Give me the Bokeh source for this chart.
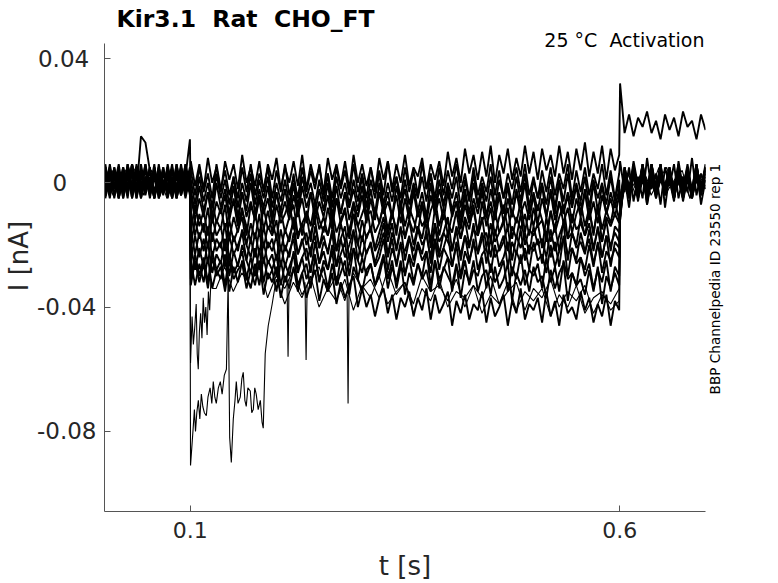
import numpy as np
from bokeh.plotting import figure
from bokeh.models import Range1d, FixedTicker, Label, ColumnDataSource, LinearAxis
from bokeh.embed import file_html
from bokeh.resources import INLINE

NB = "\u00a0"
# ---------------- axes / labels ----------------
TITLE = "Kir3.1 " + NB + "Rat " + NB + "CHO_FT"
SUBTITLE = "25 \u00b0C " + NB + "Activation"
SIDE_NOTE = "BBP Channelpedia ID 23550 rep 1"
X_LABEL = "t [s]"
Y_LABEL = "I [nA]"
X_RANGE = (0.0, 0.7)
Y_RANGE = (-0.1058, 0.0449)      # extent of the drawn y axis
Y_VIEW_TOP = 0.0587              # view extends above the axis to hold the headings
X_TICKS = [0.1, 0.6]
X_TICK_LABELS = ["0.1", "0.6"]
Y_TICKS = [0.04, 0.0, -0.04, -0.08]
Y_TICK_LABELS = ["0.04\u2008", "0\u2007\u2007", "-0.04", "-0.08"]
SIDE_NOTE_Y = -0.0681   # where the rotated note starts (data units)

# sampling windows of the three protocol phases (s)
PRE_WINDOW = (0.001, 0.0995)
STEP_WINDOW = (0.1005, 0.5995)
POST_WINDOW = (0.6005, 0.7)

# ---------------- sweeps (current in pA): (pre, step, post) ----------------
R01 = ([4, -3, 5, -2, 3, -5, 6, -1, 4, -4, 2, -5, 5, -3, 6, -2, 3, -4, 5, -1],
       [7, -1, 6, -2, 8, 0, 5, -3, 7, 1, 6, -2, 9, 0, 5, -1, 7, -3, 6, 1,
        8, -2, 5, 0, 7, -1, 9, -2, 6, 0, 5, -3, 8, 1, 6, -1, 7, -2, 9, 0,
        6, -1, 5, -3, 8, 1, 7, -2, 6, 0, 9, -1, 5, 2, 8, -2, 6, 1, 7, -1,
        10, 2, 8, 0, 11, 3, 9, 1, 10, 2, 12, 0, 9, 3, 11, 1, 8, 2, 12, 3,
        10, 1, 11, 4, 9, 2, 12, 3, 10, 1, 11, 4, 13, 2, 10, 3, 12, 1, 11, 4, 9],
       [32, 16, 22, 15, 21, 18, 23, 16, 20, 14, 22, 17, 21, 15, 23, 18, 20, 14, 22, 17])
R02 = ([-4, 3, -2, 5, -5, 2, -3, 6, -1, 4, -5, 3, -2, 5, -4, 1, -3, 6, -2, 4],
       [4, -4, 5, -3, 3, -5, 6, -2, 4, -4, 2, -5, 5, -3, 6, -4, 3, -2, 5, -5,
        4, -3, 6, -4, 2, -5, 5, -3, 4, -2, 6, -4, 3, -5, 5, -2, 4, -4, 6, -3,
        3, -5, 5, -2, 4, -4, 7, -3, 2, -5, 5, -3, 4, -4, 6, -2, 3, -5, 5, -4,
        4, -2, 6, -3, 3, -5, 5, -4, 2, -3, 6, -4, 4, -5, 3, -2, 5, -3, 6, -4,
        2, -5, 4, -3, 5, -4, 3, -2, 6, -5, 4, -3, 5, -4, 3, -2, 6, -4, 4, -5, 3],
       [7, -3, 5, -6, 2, -5, 8, -2, 3, -7, 5, -1, 6, -5, 2, -3, 8, -4, 3, -2])
R03 = ([5, -2, 4, -5, 1, -3, 6, -4, 3, -1, 5, -5, 2, -3, 4, -2, 6, -4, 1, -3],
       [1, -7, 2, -6, 0, -8, 3, -5, 1, -7, 2, -8, 0, -6, 3, -7, 1, -5, 2, -8,
        0, -6, 1, -7, 3, -8, 2, -5, 0, -7, 1, -6, 3, -8, 2, -5, 0, -7, 1, -6,
        2, -8, 1, -5, 3, -7, 0, -6, 2, -8, 1, -7, 0, -5, 2, -6, 3, -8, 1, -7,
        0, -5, 2, -8, 1, -6, 3, -7, 0, -6, 2, -8, 1, -5, 0, -7, 2, -6, 3, -8,
        1, -5, 0, -7, 2, -8, 1, -6, 3, -7, 0, -6, 2, -8, 1, -5, 0, -7, 2, -6, 1],
       [-8, 2, -3, 7, -1, 4, -7, 3, -2, 6, -4, 1, -6, 7, -2, 4, -5, 2, -1, 5])
R04 = ([-1, 5, -4, 2, -3, 6, -2, 4, -5, 1, -3, 5, -4, 3, -1, 6, -5, 2, -2, 4],
       [-2, -10, -1, -9, -3, -11, 0, -8, -2, -10, -1, -11, -3, -9, 0, -10, -2, -8, -1, -11,
        -3, -9, -2, -10, 0, -11, -1, -8, -3, -10, -2, -9, 0, -11, -1, -10, -3, -8, -2, -9,
        -1, -11, -2, -10, 0, -9, -3, -11, -1, -8, -2, -10, -1, -9, -3, -11, 0, -10, -2, -8,
        -1, -9, -3, -11, -2, -10, 0, -8, -1, -11, -2, -9, -3, -10, -1, -11, -2, -8, 0, -10,
        -3, -9, -1, -11, -2, -10, 0, -9, -3, -8, -1, -10, -2, -11, 0, -9, -1, -10, -3, -8, -2],
       [-6, 5, -2, 4, -5, 1, -3, 6, -4, 2, -2, 5, -5, 3, -1, 4, -4, 6, -3, 1])
R05 = ([3, -4, 2, -5, 4, -1, 5, -3, 15, 13, 4, -4, 3, -2, 5, -5, 2, -3, 6, -1],
       [-4, -12, -5, -11, -3, -13, -6, -10, -4, -12, -5, -13, -3, -11, -6, -12, -4, -10, -5, -13,
        -3, -11, -6, -12, -4, -10, -5, -13, -3, -12, -6, -11, -4, -13, -5, -10, -3, -12, -6, -11,
        -4, -13, -5, -12, -3, -10, -6, -11, -4, -13, -5, -12, -3, -11, -6, -13, -4, -10, -5, -12,
        -3, -11, -6, -13, -4, -12, -5, -10, -3, -11, -6, -12, -4, -13, -5, -11, -3, -10, -6, -12,
        -4, -13, -5, -11, -3, -12, -6, -10, -4, -13, -5, -11, -3, -12, -6, -13, -4, -10, -5, -11, -4],
       [-7, 3, -4, 5, -2, 6, -5, 2, -3, 4, -1, 5, -4, 3, -5, 1, -2, 6, -3, 4])
R06 = ([-5, 2, -2, 4, -4, 6, -1, 3, -5, 2, -3, 5, -2, 4, -4, 1, -5, 3, -1, 5],
       [-16, -7, -14, -9, -17, -6, -13, -8, -15, -10, -6, -14, -8, -17, -7, -12, -5, -15, -9, -16,
        -7, -13, -10, -6, -15, -8, -17, -9, -14, -6, -12, -16, -8, -15, -5, -13, -9, -17, -7, -14,
        -10, -6, -16, -8, -13, -7, -15, -9, -17, -6, -14, -8, -12, -16, -7, -15, -9, -5, -14, -8,
        -17, -10, -6, -15, -7, -13, -9, -16, -6, -14, -8, -17, -11, -7, -15, -9, -13, -6, -16, -8,
        -14, -7, -12, -17, -9, -15, -6, -13, -8, -16, -10, -6, -14, -8, -17, -7, -15, -9, -13, -6, -12],
       [-8, 4, -1, 3, -5, 2, -4, 6, -2, 5, -3, 1, -5, 4, -2, 3, -4, 5, -1, 2])
R07 = ([2, -5, 4, -1, 5, -3, 3, -4, 6, -2, 4, -5, 1, -3, 5, -1, 3, -4, 2, 14],
       [-9, -17, -10, -16, -8, -19, -12, -15, -7, -18, -11, -16, -9, -14, -19, -10, -17, -8, -15, -12,
        -18, -9, -16, -11, -7, -17, -13, -10, -19, -8, -15, -11, -17, -9, -16, -12, -8, -18, -10, -14,
        -19, -11, -9, -16, -13, -7, -17, -10, -15, -8, -18, -12, -16, -9, -14, -11, -19, -8, -17, -10,
        -13, -16, -9, -18, -11, -15, -7, -17, -12, -10, -19, -9, -16, -13, -8, -18, -11, -15, -10, -17,
        -8, -14, -12, -19, -9, -16, -11, -7, -18, -10, -15, -13, -17, -9, -16, -8, -19, -11, -14, -10, -13],
       [-9, 1, -5, 4, -2, 5, -3, 6, -4, 2, -1, 4, -5, 3, -2, 6, -3, 1, -4, 5])
R08 = ([-3, 6, -2, 4, -5, 3, -1, 5, -4, 2, -2, 6, -5, 1, -3, 4, -2, 5, -4, 2],
       [-20, -12, -18, -13, -21, -11, -17, -14, -22, -12, -19, -15, -11, -20, -13, -18, -10, -21, -14, -17,
        -12, -22, -15, -19, -11, -18, -13, -20, -16, -12, -21, -14, -17, -11, -22, -13, -19, -15, -10, -20,
        -12, -18, -14, -21, -16, -11, -19, -13, -22, -15, -17, -12, -20, -14, -18, -10, -21, -13, -19, -16,
        -11, -22, -14, -18, -12, -20, -15, -17, -11, -21, -13, -19, -16, -12, -22, -14, -18, -10, -20, -15,
        -17, -13, -21, -11, -19, -14, -22, -12, -18, -16, -20, -11, -17, -13, -21, -15, -19, -12, -22, -14, -16],
       [-9, 5, -2, 3, -6, 4, -1, 2, -5, 6, -3, 4, -2, 1, -5, 3, -4, 5, -1, 3])
R09 = ([5, -1, 3, -5, 2, -4, 6, -2, 4, -3, 1, -5, 5, -2, 3, -4, 6, -1, 2, -3],
       [-15, -23, -16, -22, -14, -24, -18, -21, -13, -25, -17, -22, -15, -20, -24, -16, -23, -14, -21, -18,
        -25, -15, -22, -17, -13, -23, -19, -16, -24, -14, -21, -17, -23, -15, -22, -18, -14, -25, -16, -20,
        -24, -17, -15, -22, -19, -13, -23, -16, -21, -14, -25, -18, -22, -15, -20, -17, -24, -14, -23, -16,
        -19, -22, -15, -25, -17, -21, -13, -23, -18, -16, -24, -15, -22, -19, -14, -25, -17, -21, -16, -23,
        -14, -20, -18, -24, -15, -22, -17, -13, -25, -16, -21, -19, -23, -15, -22, -14, -24, -17, -20, -16, -19],
       [-10, 2, -4, 6, -3, 1, -5, 4, -2, 5, -4, 2, -1, 6, -3, 4, -5, 2, -2, 4])
R10 = ([-2, 4, -5, 3, -1, 5, -4, 2, -3, 6, -2, 4, -5, 1, -4, 5, -1, 3, -5, 2],
       [-25, -17, -24, -18, -26, -16, -22, -19, -27, -17, -23, -20, -16, -25, -18, -24, -15, -26, -19, -22,
        -17, -27, -20, -24, -16, -23, -18, -25, -21, -17, -26, -19, -22, -16, -27, -18, -24, -20, -15, -25,
        -17, -23, -19, -26, -21, -16, -24, -18, -27, -20, -22, -17, -25, -19, -23, -15, -26, -18, -24, -21,
        -16, -27, -19, -23, -17, -25, -20, -22, -16, -26, -18, -24, -21, -17, -27, -19, -23, -15, -25, -20,
        -22, -18, -26, -16, -24, -19, -27, -17, -23, -21, -25, -16, -22, -18, -26, -20, -24, -17, -27, -19, -21],
       [-10, 3, -3, 5, -1, 4, -6, 2, -4, 3, -2, 5, -3, 1, -5, 4, -2, 6, -4, 2])
R11 = ([1, -4, 5, -3, 4, -2, 6, -5, 2, -1, 5, -3, 3, -4, 2, -5, 4, -2, 6, -3],
       [-20, -28, -21, -27, -19, -29, -23, -26, -18, -30, -22, -27, -20, -25, -29, -21, -28, -19, -26, -23,
        -30, -20, -27, -22, -18, -28, -24, -21, -29, -19, -26, -22, -28, -20, -27, -23, -19, -30, -21, -25,
        -29, -22, -20, -27, -24, -18, -28, -21, -26, -19, -30, -23, -27, -20, -25, -22, -29, -19, -28, -21,
        -24, -27, -20, -30, -22, -26, -18, -28, -23, -21, -29, -20, -27, -24, -19, -30, -22, -26, -21, -28,
        -19, -25, -23, -29, -20, -27, -22, -18, -30, -21, -26, -24, -28, -20, -27, -19, -29, -22, -25, -21, -24],
       [-11, 4, -5, 2, -3, 6, -2, 5, -4, 1, -3, 4, -5, 2, -1, 5, -4, 3, -2, 6])
R12 = ([-4, 2, -1, 6, -3, 4, -5, 2, -2, 5, -4, 3, -1, 4, -5, 2, -3, 5, -2, 3],
       [-31, -23, -30, -24, -32, -22, -28, -25, -33, -23, -29, -26, -22, -31, -24, -30, -21, -32, -25, -28,
        -23, -33, -26, -30, -22, -29, -24, -31, -27, -23, -32, -25, -28, -22, -33, -24, -30, -26, -21, -31,
        -24, -30, -26, -33, -28, -23, -31, -25, -34, -27, -29, -24, -32, -26, -30, -22, -33, -25, -31, -28,
        -24, -35, -27, -31, -25, -33, -28, -30, -24, -34, -26, -32, -29, -25, -35, -27, -31, -23, -33, -28,
        -30, -26, -34, -24, -32, -27, -35, -25, -31, -29, -33, -24, -30, -26, -34, -28, -32, -25, -35, -27, -30],
       [-11, 1, -2, 5, -4, 3, -5, 6, -1, 4, -3, 2, -5, 5, -2, 3, -4, 1, -3, 5])
R13 = ([6, -3, 2, -4, 5, -1, 3, -5, 4, -2, 1, -4, 6, -3, 2, -5, 4, -1, 3, -4],
       [-25, -33, -26, -32, -24, -34, -28, -31, -23, -35, -27, -32, -25, -30, -34, -26, -33, -24, -31, -28,
        -35, -25, -32, -27, -23, -33, -29, -26, -34, -24, -31, -27, -34, -26, -33, -29, -25, -36, -27, -31,
        -35, -28, -26, -33, -30, -24, -34, -27, -32, -25, -36, -29, -33, -26, -31, -28, -35, -25, -34, -27,
        -30, -33, -26, -37, -28, -32, -25, -35, -30, -28, -36, -27, -34, -31, -26, -38, -29, -33, -28, -35,
        -27, -32, -30, -37, -28, -34, -29, -26, -38, -29, -33, -31, -36, -28, -35, -27, -39, -30, -34, -29, -33],
       [-12, 5, -3, 2, -4, 6, -1, 3, -5, 2, -2, 4, -4, 5, -3, 1, -5, 4, -2, 3])
R14 = ([-3, 5, -4, 1, -2, 4, -5, 3, -1, 6, -4, 2, -3, 5, -2, 4, -5, 1, -3, 2],
       [-33, -25, -32, -26, -34, -24, -30, -27, -35, -25, -31, -28, -26, -34, -28, -33, -25, -36, -29, -32,
        -27, -37, -30, -34, -27, -35, -29, -37, -32, -28, -38, -31, -35, -29, -39, -32, -37, -33, -30, -40,
        -34, -40, -36, -43, -37, -34, -42, -36, -44, -37, -40, -35, -43, -37, -41, -34, -44, -36, -42, -39,
        -35, -46, -38, -42, -36, -44, -39, -41, -35, -45, -37, -43, -40, -36, -46, -38, -42, -34, -44, -39,
        -41, -37, -45, -35, -43, -38, -46, -36, -42, -40, -44, -35, -41, -37, -45, -39, -43, -36, -46, -38, -41],
       [-12, 2, -8, 4, -2, 5, -7, 1, -3, 6, -8, 3, -1, 4, -6, 2, -3, 5, -7, 1])

# sweep with the large early inward transient
S16_PRE = [3, -4, 2, 5, -3, 1, 4, -5, 2, -2, 4, -3]
S16_EARLY_T = [0.1002, 0.1020, 0.1035, 0.1047, 0.1060, 0.1075, 0.1093, 0.1110, 0.1128, 0.1145,
               0.1163, 0.1186, 0.1205, 0.1230, 0.1250, 0.1267, 0.1285, 0.1302, 0.1326, 0.1349,
               0.1370, 0.1395, 0.1420, 0.1440, 0.1458, 0.1477, 0.1500, 0.1520, 0.1535, 0.1555,
               0.1581, 0.1600, 0.1616, 0.1635, 0.1651, 0.1670, 0.1698, 0.1715, 0.1733, 0.1750,
               0.1767, 0.1790, 0.1815, 0.1835, 0.1849, 0.1872, 0.1907, 0.1953]
S16_EARLY_V = [-91, -84, -78, -73, -80, -74, -70, -76, -68, -72,
               -74, -75, -69, -66, -71, -64, -69, -71, -66, -64,
               -68, -62, -60, -31, -82, -90, -76, -70, -64, -71,
               -69, -63, -61, -70, -72, -66, -67, -74, -73, -66,
               -68, -73, -70, -77, -79, -55, -46, -39]
S16_LATE_WINDOW = (0.2, 0.5995)
S16_LATE = [-31, -39, -32, -37, -30, -40, -34, -38, -31, -41, -33, -37, -30, -39, -35, -32, -42, -34, -38, -31,
            -40, -35, -37, -33, -42, -36, -39, -32, -41, -35, -38, -34, -43, -36, -40, -33, -42, -37, -35, -41, -38]
S16_POST = [-9, 3, -4, 4, -2, 5, -3, 1, 4, -5, 2, -2]

# sweep with the shorter early transient
S17_PRE = [-3, 4, -2, 1, 5, -4, 2, 3, -5, 1, 3, -2]
S17_EARLY_T = [0.1002, 0.1020, 0.1035, 0.1050, 0.1068, 0.1080, 0.1092, 0.1105, 0.1120, 0.1135,
               0.1150, 0.1165, 0.1180, 0.1195, 0.1210, 0.1225, 0.1240, 0.1260]
S17_EARLY_V = [-58, -43, -52, -47, -39, -55, -60, -48, -42, -50,
               -37, -45, -40, -49, -35, -41, -31, -34]
S17_LATE_WINDOW = (0.13, 0.5995)
S17_LATE = [-34, -27, -35, -29, -33, -26, -37, -30, -34, -28, -36, -31, -27, -35, -30, -38, -29, -34, -31, -37,
            -28, -36, -32, -39, -30, -35, -33, -38, -31, -40, -33, -37, -30, -39, -35, -32, -41, -34, -37, -31,
            -40, -35, -38, -33, -42, -36, -39, -34]
S17_POST = [-8, 3, -2, 4, -4, 1, 5, -3, 2, -5, 3, -1]

# brief inward spikes (s, pA)
SPIKE_T = [[0.2125, 0.2138, 0.2150], [0.2335, 0.2348, 0.2360], [0.2826, 0.2837, 0.2848]]
SPIKE_V = [[-30, -56, -31], [-32, -57, -33], [-36, -71, -35]]

REGULAR = [R01, R02, R03, R04, R05, R06, R07, R08, R09, R10, R11, R12, R13, R14]

PA_TO_NA = 1e-3


def grid(window, n):
    return np.linspace(window[0], window[1], n)


band_xs, band_ys = [], []
for pre, step, post in REGULAR:
    t = np.concatenate([grid(PRE_WINDOW, len(pre)), grid(STEP_WINDOW, len(step)),
                        grid(POST_WINDOW, len(post))])
    v = np.array(pre + step + post, dtype=float) * PA_TO_NA
    band_xs.append(t.tolist())
    band_ys.append(v.tolist())

thin_xs, thin_ys = [], []
for pre, et, ev, lw, late, post in [
        (S16_PRE, S16_EARLY_T, S16_EARLY_V, S16_LATE_WINDOW, S16_LATE, S16_POST),
        (S17_PRE, S17_EARLY_T, S17_EARLY_V, S17_LATE_WINDOW, S17_LATE, S17_POST)]:
    t = np.concatenate([grid(PRE_WINDOW, len(pre)), np.array(et), grid(lw, len(late)),
                        grid(POST_WINDOW, len(post))])
    v = np.array(pre + ev + late + post, dtype=float) * PA_TO_NA
    thin_xs.append(t.tolist())
    thin_ys.append(v.tolist())

for st, sv in zip(SPIKE_T, SPIKE_V):
    thin_xs.append(list(st))
    thin_ys.append((np.array(sv, dtype=float) * PA_TO_NA).tolist())

W, H = 778, 583
p = figure(width=W, height=H, output_backend="svg", toolbar_location=None, title=None,
           x_range=Range1d(*X_RANGE), y_range=Range1d(Y_RANGE[0], Y_VIEW_TOP),
           min_border_left=104, min_border_right=73, min_border_top=0, min_border_bottom=70)
p.outline_line_color = None
p.xgrid.visible = False
p.ygrid.visible = False
p.background_fill_color = "white"
p.border_fill_color = "white"

FONT = "DejaVu Sans"
AX_COL = "#555555"
TXT_COL = "#262626"

for ax, ticks, labels in ((p.xaxis, X_TICKS, X_TICK_LABELS), (p.yaxis, Y_TICKS, Y_TICK_LABELS)):
    ax.ticker = FixedTicker(ticks=ticks)
    ax.major_label_overrides = dict(zip(ticks, labels))
    ax.major_tick_in = 6
    ax.major_tick_out = 0
    ax.minor_tick_line_color = None
    ax.axis_line_color = AX_COL
    ax.major_tick_line_color = AX_COL
    ax.major_label_text_font = FONT
    ax.major_label_text_color = TXT_COL
    ax.axis_label_text_font = FONT
    ax.axis_label_text_font_style = "normal"
    ax.axis_label_text_font_size = "26px"
    ax.axis_label_text_color = TXT_COL

p.xaxis.axis_label = X_LABEL
p.xaxis.major_label_text_font_size = "22px"
p.xaxis.major_label_standoff = 10
p.xaxis.axis_label_standoff = 10
p.yaxis.axis_label = Y_LABEL
p.yaxis.bounds = Y_RANGE
p.yaxis.major_label_text_font_size = "23px"
p.yaxis.major_label_standoff = 8
p.yaxis.axis_label_standoff = 0

side = LinearAxis(ticker=FixedTicker(ticks=[SIDE_NOTE_Y]),
                  major_label_overrides={SIDE_NOTE_Y: SIDE_NOTE},
                  major_label_orientation=np.pi / 2,
                  major_label_text_font=FONT, major_label_text_font_size="13.6px",
                  major_label_text_color="black", major_label_standoff=4,
                  major_tick_line_color=None, minor_tick_line_color=None,
                  axis_line_color=None)
p.add_layout(side, "right")

p.multi_line(xs="xs", ys="ys", source=ColumnDataSource(dict(xs=band_xs, ys=band_ys)),
             line_color="black", line_width=1.9)
p.multi_line(xs="xs", ys="ys", source=ColumnDataSource(dict(xs=thin_xs, ys=thin_ys)),
             line_color="black", line_width=1.1)

p.add_layout(Label(x=X_RANGE[0], y=Y_RANGE[1], x_offset=12, y_offset=24, text=TITLE,
                   text_font=FONT, text_font_size="23.5px", text_font_style="bold",
                   text_color="black", text_align="left", text_baseline="alphabetic"))
p.add_layout(Label(x=X_RANGE[1], y=Y_RANGE[1], x_offset=-1, y_offset=3, text=SUBTITLE,
                   text_font=FONT, text_font_size="19px", text_color="black",
                   text_align="right", text_baseline="alphabetic"))

open("out.html", "w").write(file_html(p, INLINE))
